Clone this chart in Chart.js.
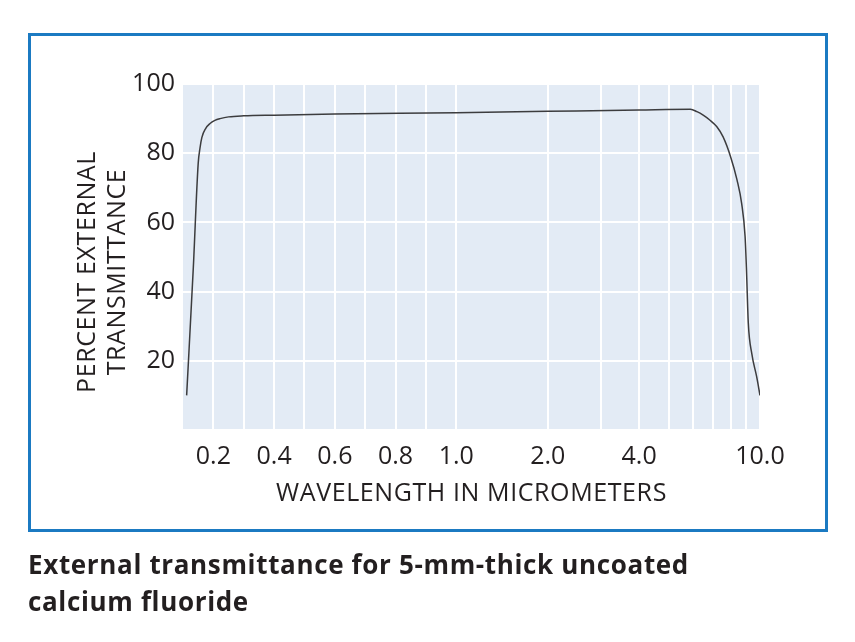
<!DOCTYPE html>
<html>
<head>
<meta charset="utf-8">
<script src="https://cdn.jsdelivr.net/npm/chart.js@4/dist/chart.umd.min.js"></script>
<style>
  html, body { margin: 0; padding: 0; background: #ffffff; }
  body { width: 855px; height: 642px; position: relative; overflow: hidden; }
  #frame { position: absolute; left: 28px; top: 33px; width: 800px; height: 499px; box-sizing: border-box; border: 3px solid #1b7ac2; }
  #wrap { position: absolute; left: 0; top: 0; width: 855px; height: 642px; }
  #caption { position: absolute; left: 28px; top: 546px; font-family: "Open Sans", sans-serif; font-weight: 700; font-size: 26px; line-height: 37px; color: #231f20; letter-spacing: 0.65px; }
</style>
</head>
<body>
<div id="frame"></div>
<div id="wrap"><canvas id="c" width="855" height="642"></canvas></div>
<div id="caption">External transmittance for 5-mm-thick uncoated<br>calcium fluoride</div>
<script>
// Wavelength (micrometers) and percent external transmittance
const wavelengths = [0.112, 0.134, 0.150, 0.156, 0.162, 0.175, 0.189, 0.205, 0.222, 0.25, 0.3, 0.4, 0.6, 1.0, 2.0, 4.0, 5.9, 6.2, 6.5, 6.83, 7.2, 7.56, 8.0, 8.4, 8.7, 8.93, 9.02, 9.15, 9.4, 9.75, 10.0];
const transmittance = [10, 47, 77, 81.5, 84.5, 87.2, 88.6, 89.5, 90.0, 90.5, 90.8, 91.0, 91.3, 91.7, 92.1, 92.5, 92.7, 92.0, 91.0, 89.6, 87.7, 84.7, 79, 72.3, 65.5, 56, 47, 31, 22, 15.4, 10];
const gridWavelengths = [0.2, 0.3, 0.4, 0.5, 0.6, 0.7, 0.8, 0.9, 1.0, 2, 3, 4, 5, 6, 7, 8, 9, 10];
const xTickLabels = ['0.2', '0.4', '0.6', '0.8', '1.0', '2.0', '4.0', '10.0'];
const yTickValues = [20, 40, 60, 80, 100];
const xTitle = 'WAVELENGTH IN MICROMETERS';
const yTitleLines = ['PERCENT EXTERNAL', 'TRANSMITTANCE'];

// Axis is linear from 0.1 to 1.0 and logarithmic from 1 to 10
function u(w) { return w <= 1 ? w : 1 + Math.log10(w); }
function inv(v) { return v <= 1 ? v : Math.pow(10, v - 1); }

const points = wavelengths.map((w, i) => ({ x: u(w), y: transmittance[i] }));
const txt = '#231f20';

const bgPlugin = {
  id: 'plotBg',
  beforeDraw(chart) {
    const { ctx, chartArea: a } = chart;
    ctx.save();
    ctx.fillStyle = '#e3ebf5';
    ctx.fillRect(a.left, a.top, a.right - a.left, a.bottom - a.top);
    ctx.restore();
  },
  afterDraw(chart) {
    const { ctx, chartArea: a } = chart;
    ctx.save();
    ctx.fillStyle = txt;
    ctx.font = '25px "Open Sans"';
    ctx.letterSpacing = '0.6px';
    ctx.textAlign = 'center';
    ctx.textBaseline = 'middle';
    ctx.fillText(xTitle, (a.left + a.right) / 2, 494);
    ctx.translate(0, 272);
    ctx.rotate(-Math.PI / 2);
    ctx.fillText(yTitleLines[0], 0, 88);
    ctx.fillText(yTitleLines[1], 0, 118);
    ctx.restore();
  }
};

new Chart(document.getElementById('c'), {
  type: 'line',
  data: {
    datasets: [{
      data: points,
      borderColor: '#3c3c3e',
      borderWidth: 1.5,
      pointRadius: 0,
      fill: false,
      cubicInterpolationMode: 'monotone'
    }]
  },
  options: {
    responsive: false,
    animation: false,
    events: [],
    layout: { padding: { left: 0, right: 95, top: 84, bottom: 0 } },
    plugins: { legend: { display: false }, tooltip: { enabled: false }, title: { display: false } },
    scales: {
      x: {
        type: 'linear',
        min: u(0.1),
        max: u(10),
        afterFit(s) { s.height = 212; },
        afterBuildTicks(s) { s.ticks = gridWavelengths.map(w => ({ value: u(w) })); },
        ticks: {
          autoSkip: false,
          maxRotation: 0,
          padding: 12,
          color: txt,
          font: { family: '"Open Sans"', size: 25 },
          callback(v) {
            const w = inv(v);
            const lab = xTickLabels.find(l => Math.abs(parseFloat(l) - w) < 1e-6);
            return lab === undefined ? '' : lab;
          }
        },
        grid: { color: '#ffffff', lineWidth: 2, drawTicks: false },
        border: { display: false }
      },
      y: {
        min: 0,
        max: 100,
        afterFit(s) { s.width = 183; },
        afterBuildTicks(s) { s.ticks = [0].concat(yTickValues).map(v => ({ value: v })); },
        ticks: {
          padding: 8,
          color: txt,
          font: { family: '"Open Sans"', size: 25 },
          callback(v) { return yTickValues.includes(v) ? String(v) : ''; }
        },
        grid: { color: '#ffffff', lineWidth: 2, drawTicks: false },
        border: { display: false }
      }
    }
  },
  plugins: [bgPlugin]
});
</script>
</body>
</html>
